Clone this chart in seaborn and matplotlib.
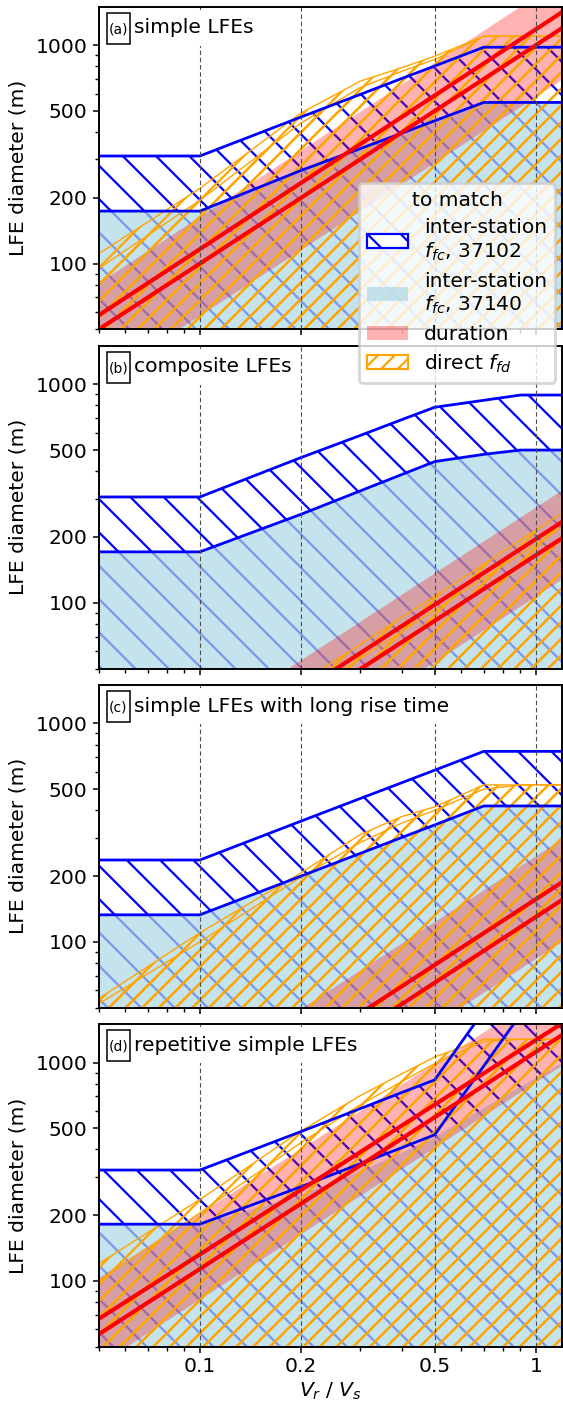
import numpy as np
import matplotlib
matplotlib.use("Agg")
import matplotlib.pyplot as plt
from matplotlib.patches import Patch, Rectangle
from matplotlib.ticker import FixedLocator, FixedFormatter, LogLocator, NullFormatter
import seaborn as sns

# ---- data ----
# Vr/Vs samples shared by the bands
vr = [0.05, 0.1, 0.2, 0.3, 0.4, 0.5, 0.7, 0.9, 1.2]
vr_ends = [0.05, 1.2]

panel_tags = ["(a)", "(b)", "(c)", "(d)"]
panel_titles = ["simple LFEs", "composite LFEs",
                "simple LFEs with long rise time", "repetitive simple LFEs"]

# inter-station f_fc, 37102 : upper / lower bound (m)
sta102_hi = [
    [311, 311, 469, 595, 705, 803, 979, 979, 979],
    [305, 305, 462, 583, 690, 785, 845, 893, 893],
    [237, 237, 357, 453, 536, 611, 745, 745, 745],
    [322, 322, 483, 615, 730, 833, 1727, 2950, 5500],
]
sta102_lo = [
    [174, 174, 267, 336, 396, 451, 547, 547, 547],
    [171, 171, 254, 325, 387, 443, 478, 500, 500],
    [133, 133, 200, 254, 301, 343, 419, 419, 419],
    [182, 182, 270, 344, 408, 467, 964, 1660, 3090],
]
# inter-station f_fc, 37140 : top of the shaded region
sta140_top = [
    [174, 174, 267, 336, 396, 451, 547, 547, 547],
    [171, 171, 254, 325, 387, 443, 478, 500, 500],
    [133, 133, 200, 254, 301, 343, 419, 419, 419],
    [182, 182, 250, 320, 390, 460, 625, 780, 1005],
]
# direct f_fd : two overlapping upper curves
direct_top = [
    [111, 221, 489, 684, 790, 890, 1100, 1100, 1100],
    [10.8, 21.5, 43, 64.5, 86, 107, 150, 194, 258],
    [55, 110, 207, 310, 375, 415, 523, 523, 523],
    [120, 236, 486, 705, 890, 1060, 1278, 1278, 1278],
]
direct_top2 = [
    [95, 195, 440, 640, 760, 860, 1100, 1100, 1100],
    [9.2, 18.5, 37, 55.5, 74, 92.5, 130, 167, 222],
    [52, 100, 198, 285, 350, 400, 500, 523, 523],
    [100, 205, 430, 640, 820, 990, 1250, 1278, 1278],
]
# duration : two lines and the shaded range (values at vr_ends)
dur_hi = [[58, 1420], [9.8, 235], [7.85, 188], [67, 1515]]
dur_lo = [[50, 1200], [8.3, 198], [6.5, 156], [57, 1340]]
dur_band_lo = [[29, 700], [5.4, 129], [4.2, 101], [41.6, 978]]
dur_band_hi = [[82, 2020], [13.7, 330], [12.4, 298], [104, 2350]]

ref_lines = [0.1, 0.2, 0.5, 1]

FS = 7.3

# ---- style ----
sns.set_theme(style="ticks")
plt.rcParams.update({
    "font.family": ["DejaVu Sans"],
    "mathtext.fontset": "dejavusans",
    "font.size": FS,
    "axes.labelsize": FS,
    "xtick.labelsize": FS,
    "ytick.labelsize": FS,
    "legend.fontsize": FS,
    "legend.title_fontsize": FS,
    "text.color": "black",
    "axes.labelcolor": "black",
    "axes.edgecolor": "black",
    "axes.linewidth": 0.7,
    "xtick.color": "black",
    "ytick.color": "black",
    "xtick.major.size": 2.2,
    "ytick.major.size": 2.2,
    "xtick.minor.size": 1.6,
    "ytick.minor.size": 1.6,
    "xtick.major.width": 0.55,
    "ytick.major.width": 0.55,
    "xtick.minor.width": 0.5,
    "ytick.minor.width": 0.5,
    "xtick.major.pad": 1.6,
    "ytick.major.pad": 1.8,
    "axes.labelpad": 3.0,
    "hatch.linewidth": 0.8,
})

fig, axes = plt.subplots(4, 1, figsize=(2.815, 7.015), dpi=200, sharex=True)
fig.subplots_adjust(left=0.1753, right=0.999, top=0.9952, bottom=0.0401, hspace=0.051)

floor = [10] * len(vr)

for i, ax in enumerate(axes):
    ax.set_xscale("log")
    ax.set_yscale("log")

    # 37102 hatched band (hatch runs down to the floor)
    ax.fill_between(vr, floor, sta102_hi[i], facecolor="none", edgecolor="blue",
                    hatch="\\\\", linewidth=0, zorder=1)
    # 37140 shaded region
    ax.fill_between(vr, floor, sta140_top[i], color="lightblue", alpha=0.7,
                    linewidth=0, zorder=2)
    # duration range
    ax.fill_between(vr_ends, dur_band_lo[i], dur_band_hi[i], color="red", alpha=0.3,
                    linewidth=0, zorder=3)
    # direct f_fd hatched regions
    for top in (direct_top[i], direct_top2[i]):
        ax.fill_between(vr, floor, top, facecolor="none", edgecolor="orange",
                        hatch="////", linewidth=0, zorder=4)
        sns.lineplot(x=vr, y=top, color="orange", lw=0.5, ax=ax, zorder=5,
                     estimator=None, sort=False)

    sns.lineplot(x=vr, y=sta102_hi[i], color="blue", lw=1.0, ax=ax, zorder=5,
                 estimator=None, sort=False)
    sns.lineplot(x=vr, y=sta102_lo[i], color="blue", lw=1.0, ax=ax, zorder=5,
                 estimator=None, sort=False)
    sns.lineplot(x=vr_ends, y=dur_hi[i], color="red", lw=1.5, ax=ax, zorder=6,
                 estimator=None, sort=False)
    sns.lineplot(x=vr_ends, y=dur_lo[i], color="red", lw=1.5, ax=ax, zorder=6,
                 estimator=None, sort=False)

    for xv in ref_lines:
        ax.axvline(xv, color="0.3", lw=0.4, ls=(0, (4, 2.5)), zorder=7)

    ax.set_xlim(0.05, 1.2)
    ax.set_ylim(50, 1500)

    # panel label
    ax.text(0.076, 0.9175, panel_titles[i], transform=ax.transAxes, fontsize=FS,
            ha="left", va="baseline", zorder=8,
            bbox=dict(boxstyle="square,pad=0.43", fc="white", ec="none"))
    ax.add_patch(Rectangle((0.0179, 0.8844), 0.0496, 0.0966, transform=ax.transAxes,
                           fc="white", ec="black", lw=0.55, zorder=9))
    ax.text(0.0427, 0.9175, panel_tags[i], transform=ax.transAxes, fontsize=5,
            ha="center", va="baseline", zorder=10)

    ax.yaxis.set_major_locator(FixedLocator([100, 200, 500, 1000]))
    ax.yaxis.set_major_formatter(FixedFormatter(["100", "200", "500", "1000"]))
    ax.yaxis.set_minor_locator(LogLocator(base=10, subs=np.arange(2, 10), numticks=20))
    ax.yaxis.set_minor_formatter(NullFormatter())
    ax.set_ylabel("LFE diameter (m)")
    ax.set_xlabel("")
    for sp in ax.spines.values():
        sp.set_zorder(20)
        sp.set_visible(True)

axes[-1].xaxis.set_major_locator(FixedLocator([0.1, 0.2, 0.5, 1]))
axes[-1].xaxis.set_major_formatter(FixedFormatter(["0.1", "0.2", "0.5", "1"]))
axes[-1].xaxis.set_minor_locator(LogLocator(base=10, subs=np.arange(2, 10), numticks=20))
axes[-1].xaxis.set_minor_formatter(NullFormatter())
axes[-1].set_xlabel("$V_r$ / $V_s$", labelpad=1.5)

handles = [
    Patch(facecolor="white", edgecolor="blue", hatch="\\\\", lw=0.8),
    Patch(facecolor="lightblue", alpha=0.7, lw=0),
    Patch(facecolor="red", alpha=0.3, lw=0),
    Patch(facecolor="white", edgecolor="orange", hatch="////", lw=0.8),
]
labels = ["inter-station\n$f_{fc}$, 37102", "inter-station\n$f_{fc}$, 37140",
          "duration", "direct $f_{fd}$"]
fig.legend(handles, labels, title="to match", loc="upper left",
           bbox_to_anchor=(0.6377, 0.8698), borderaxespad=0,
           labelspacing=0.42, framealpha=0.8, edgecolor="0.8", fancybox=True)

fig.savefig("out.png", dpi=200)
